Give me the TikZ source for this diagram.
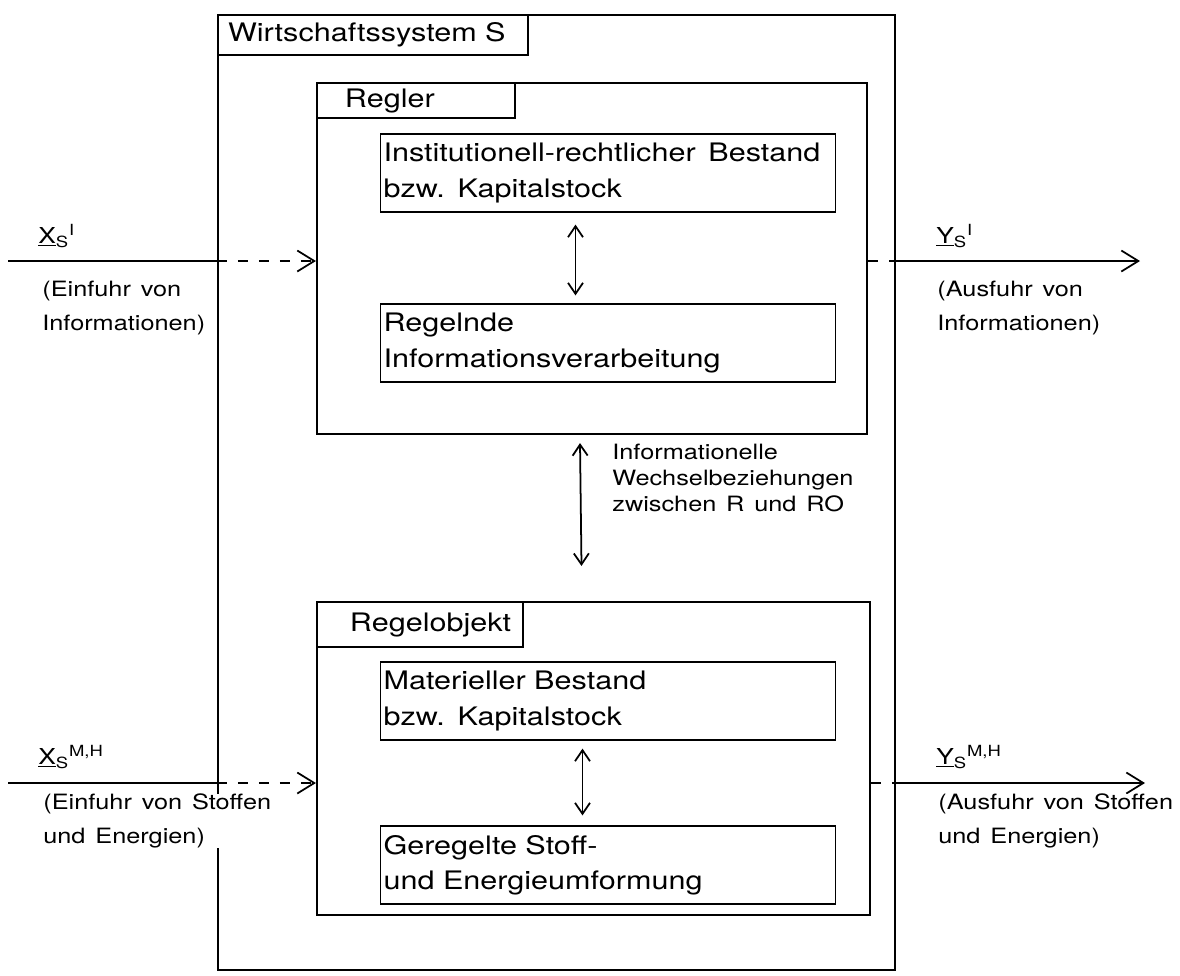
\documentclass[tikz,border=0pt]{standalone}
\usepackage{fontspec}
\setmainfont{TeX Gyre Heros}[FakeStretch=1.2,WordSpace=1.4]
\newfontfamily\boxfont{TeX Gyre Heros}[FakeStretch=1.2,WordSpace=2.1]
\usetikzlibrary{arrows.meta,positioning,fit}

\tikzset{
  frame/.style={draw, line width=1.2pt, inner sep=0pt},
  tab/.style 2 args={draw, line width=1.2pt, anchor=north west, inner sep=0pt,
    text width=#1, minimum height=#2, align=left, font=\boxfont\fontsize{14.5}{18}\selectfont},
  part/.style={draw, line width=1pt, inner xsep=0.06cm, inner ysep=0pt, text width=8.98cm,
    minimum height=1.55cm, align=left, font=\boxfont\fontsize{14.5}{20}\selectfont},
  side/.style={anchor=base west, inner sep=0pt, fill=white, align=left, font=\fontsize{12}{19}\selectfont},
  sym/.style={anchor=base west, inner sep=0pt, font=\fontsize{12.5}{15}\selectfont},
  flow/.style={line width=1pt, -{Straight Barb[length=3.4mm,width=4.2mm]}},
  link/.style={line width=1pt, {Straight Barb[length=2.2mm,width=3mm]}-{Straight Barb[length=2.2mm,width=3mm]}},
  gapline/.style={line width=1pt, dash pattern=on 0.2cm off 0.22cm}
}

\begin{document}
\begin{tikzpicture}[x=0.02cm, y=-0.02cm]
  \useasboundingbox (0,0) rectangle (1180,975);

  % system and its two parts
  \node[frame, fit={(218,15) (895,970)}] (sys) {};
  \node[frame, fit={(317,83) (867,434)}] (regler) {};
  \node[frame, fit={(317,602) (870,915)}] (objekt) {};

  \node[tab={6.2cm}{0.8cm}] (systab) at (sys.north west) {\hspace*{0.2cm}Wirtschaftssystem S};
  \node[tab={3.96cm}{0.7cm}] (reglertab) at (regler.north west) {\hspace*{0.56cm}Regler};
  \node[tab={4.12cm}{0.9cm}] (objekttab) at (objekt.north west) {\hspace*{0.66cm}Regelobjekt};

  % inner boxes
  \node[part] (inst) at (608,173) {Institutionell-rechtlicher\enspace Bestand\\bzw. Kapitalstock};
  \node[part] (verarb) at (608,343) {Regelnde\\Informationsverarbeitung};
  \node[part] (mat) at (608,701) {Materieller Bestand\\bzw. Kapitalstock};
  \node[part] (umform) at (608,865) {Geregelte Stoff-\\und Energieumformung};

  \draw[link] ([xshift=-0.65cm, yshift=-0.24cm]inst.south) -- ([xshift=-0.65cm, yshift=0.16cm]verarb.north);
  \draw[link] ([xshift=-0.51cm, yshift=-0.16cm]mat.south) -- ([xshift=-0.51cm, yshift=0.2cm]umform.north);
  \draw[link] ([xshift=-0.24cm, yshift=-0.16cm]regler.south) -- ([xshift=-0.24cm, yshift=0.7cm]objekt.north);
  \node[anchor=base west, inner sep=0pt, align=left, font=\fontsize{12}{14.7}\selectfont] (wechsel) at (612,511)
    {Informationelle\\Wechselbeziehungen\\zwischen R und RO};

  % inputs
  \coordinate (xi) at (8,261);
  \coordinate (xm) at (8,783);
  \draw[line width=1pt] (xi) -- (xi -| sys.west);
  \draw[gapline, flow] (xi -| sys.west) -- (xi -| regler.west);
  \draw[line width=1pt] (xm) -- (xm -| sys.west);
  \draw[gapline, flow] (xm -| sys.west) -- (xm -| objekt.west);
  \node[sym] (xilab) at (38,243) {\underline{X}\textsubscript{S}\textsuperscript{I}};
  \node[sym] (xmlab) at (38,764) {\underline{X}\textsubscript{S}\textsuperscript{M,H}};
  \node[side] (xitext) at (42,330) {(Einfuhr von\\Informationen)};
  \node[side] (xmtext) at (43,843) {(Einfuhr von Stoffen\\und Energien)};

  % outputs
  \coordinate (yi) at (1140,261);
  \coordinate (ym) at (1145,783);
  \draw[gapline] (yi -| regler.east) -- (yi -| sys.east);
  \draw[flow] (yi -| sys.east) -- (yi);
  \draw[gapline] (ym -| objekt.east) -- (ym -| sys.east);
  \draw[flow] (ym -| sys.east) -- (ym);
  \node[sym] (yilab) at (936,243) {\underline{Y}\textsubscript{S}\textsuperscript{I}};
  \node[sym] (ymlab) at (936,764) {\underline{Y}\textsubscript{S}\textsuperscript{M,H}};
  \node[side] (yitext) at (937,330) {(Ausfuhr von\\Informationen)};
  \node[side] (ymtext) at (938,843) {(Ausfuhr von Stoffen\\und Energien)};
\end{tikzpicture}
\end{document}
